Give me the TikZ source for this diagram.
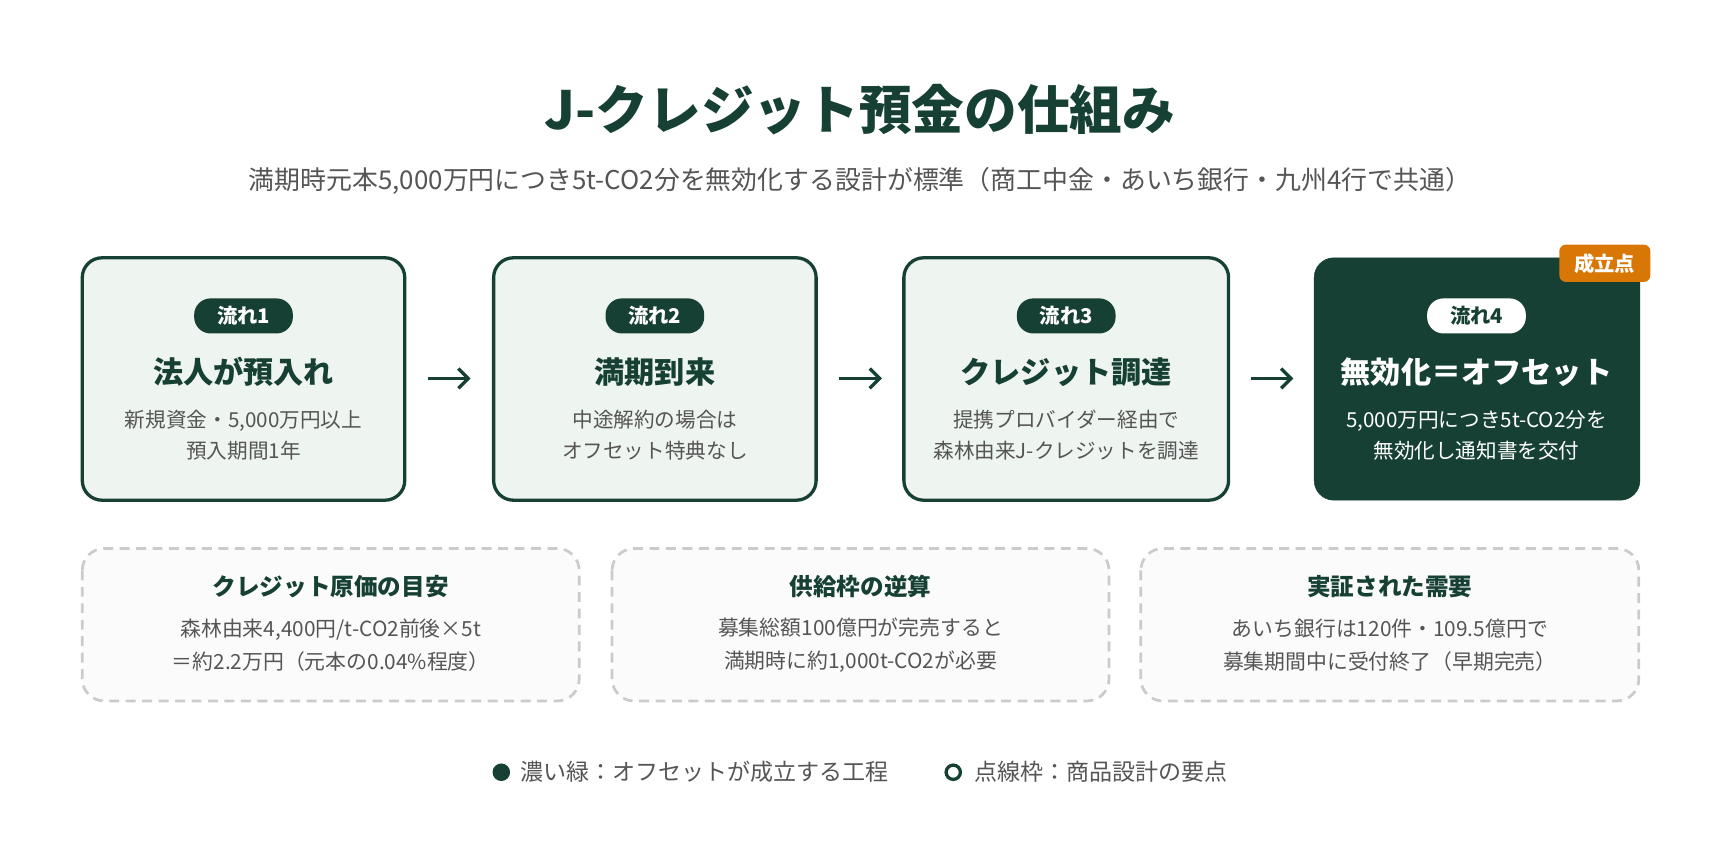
\documentclass[tikz,border=0pt]{standalone}
\usepackage{fontspec}
\usetikzlibrary{arrows.meta}
\setmainfont{Noto Sans CJK JP}
\definecolor{dg}{HTML}{174034}
\definecolor{lg}{HTML}{EEF4EF}
\definecolor{gr}{HTML}{555555}
\definecolor{og}{HTML}{D97706}
\definecolor{dash}{HTML}{C8CDCA}
\begin{document}
\begin{tikzpicture}[x=1pt,y=-1pt,
 stepbox/.style={draw=dg,line width=3pt,fill=lg,rounded corners=18pt},
 pill/.style={fill=dg,text=white,rounded corners=15pt,minimum width=90pt,minimum height=32pt,font=\fontsize{18.5}{20}\selectfont\bfseries,inner sep=0pt},
 ttl/.style={text=dg,font=\fontsize{27.5}{30}\selectfont\bfseries},
 dsc/.style={text=gr,align=center,font=\fontsize{18.8}{28}\selectfont},
 arr/.style={draw=dg,line width=3pt,-{Straight Barb[length=9pt,width=18pt]}},
 note/.style={draw=dash,line width=2.5pt,dash pattern=on 9pt off 6pt,fill=white!97!gray,rounded corners=20pt},
 ntl/.style={text=dg,font=\fontsize{21.5}{22}\selectfont\bfseries}]
\useasboundingbox (0,0) rectangle (1568,771);
\node[text=dg,font=\fontsize{48}{50}\selectfont\bfseries] (title) at (784,100) {J-クレジット預金の仕組み};
\node[text=gr,font=\fontsize{23.6}{24}\selectfont] (sub) at (784,165) {満期時元本5,000万円につき5t-CO2分を無効化する設計が標準（商工中金・あいち銀行・九州4行で共通）};
\foreach \i/\a/\b/\t/\d in {1/75/369/{法人が預入れ}/{新規資金・5,000万円以上\\預入期間1年},2/450/744/{満期到来}/{中途解約の場合は\\オフセット特典なし},3/824/1120/{クレジット調達}/{提携プロバイダー経由で\\森林由来J-クレジットを調達}}{
 \draw[stepbox] (\a,235) rectangle (\b,456);
 \node[pill] (p\i) at ({(\a+\b)/2},288) {流れ\i};
 \node[ttl] (t\i) at ({(\a+\b)/2},339) {\t};
 \node[dsc] (d\i) at ({(\a+\b)/2},397) {\d};
}
\draw[fill=dg,draw=dg,rounded corners=18pt] (1198,235) rectangle (1495,456);
\node[pill,fill=white,text=dg] (p4) at (1346,288) {流れ4};
\node[ttl,text=white] (t4) at (1346,339) {無効化＝オフセット};
\node[dsc,text=white] (d4) at (1346,397) {5,000万円につき5t-CO2分を\\無効化し通知書を交付};
\node[fill=og,text=white,rounded corners=6pt,minimum width=83pt,minimum height=34pt,inner sep=0pt,font=\fontsize{18.5}{20}\selectfont\bfseries] (badge) at (1463,240) {成立点};
\coordinate (a1s) at (390,345); \coordinate (a1e) at (429,345);
\coordinate (a2s) at (765,345); \coordinate (a2e) at (804,345);
\coordinate (a3s) at (1140,345); \coordinate (a3e) at (1179,345);
\draw[arr] (a1s) -- (a1e); \draw[arr] (a2s) -- (a2e); \draw[arr] (a3s) -- (a3e);
\foreach \j/\a/\b/\t/\d in {1/75/528/{クレジット原価の目安}/{森林由来4,400円/t-CO2前後×5t\\＝約2.2万円（元本の0.04\%程度）},2/558/1011/{供給枠の逆算}/{募集総額100億円が完売すると\\満期時に約1,000t-CO2が必要},3/1040/1494/{実証された需要}/{あいち銀行は120件・109.5億円で\\募集期間中に受付終了（早期完売）}}{
 \draw[note] (\a,500) rectangle (\b,639);
 \node[ntl] (n\j) at ({(\a+\b)/2},535) {\t};
 \node[dsc,font=\fontsize{19}{30}\selectfont] (m\j) at ({(\a+\b)/2},588) {\d};
}
\node[circle,fill=dg,minimum size=16pt,inner sep=0pt] (l1) at (457,704) {};
\node[anchor=west,text=gr,font=\fontsize{21}{22}\selectfont,inner sep=0pt] (lt1) at (474,704) {濃い緑：オフセットが成立する工程};
\node[circle,draw=dg,line width=3pt,fill=white,minimum size=13pt,inner sep=0pt] (l2) at (869,704) {};
\node[anchor=west,text=gr,font=\fontsize{21}{22}\selectfont,inner sep=0pt] (lt2) at (888,704) {点線枠：商品設計の要点};
\end{tikzpicture}
\end{document}
